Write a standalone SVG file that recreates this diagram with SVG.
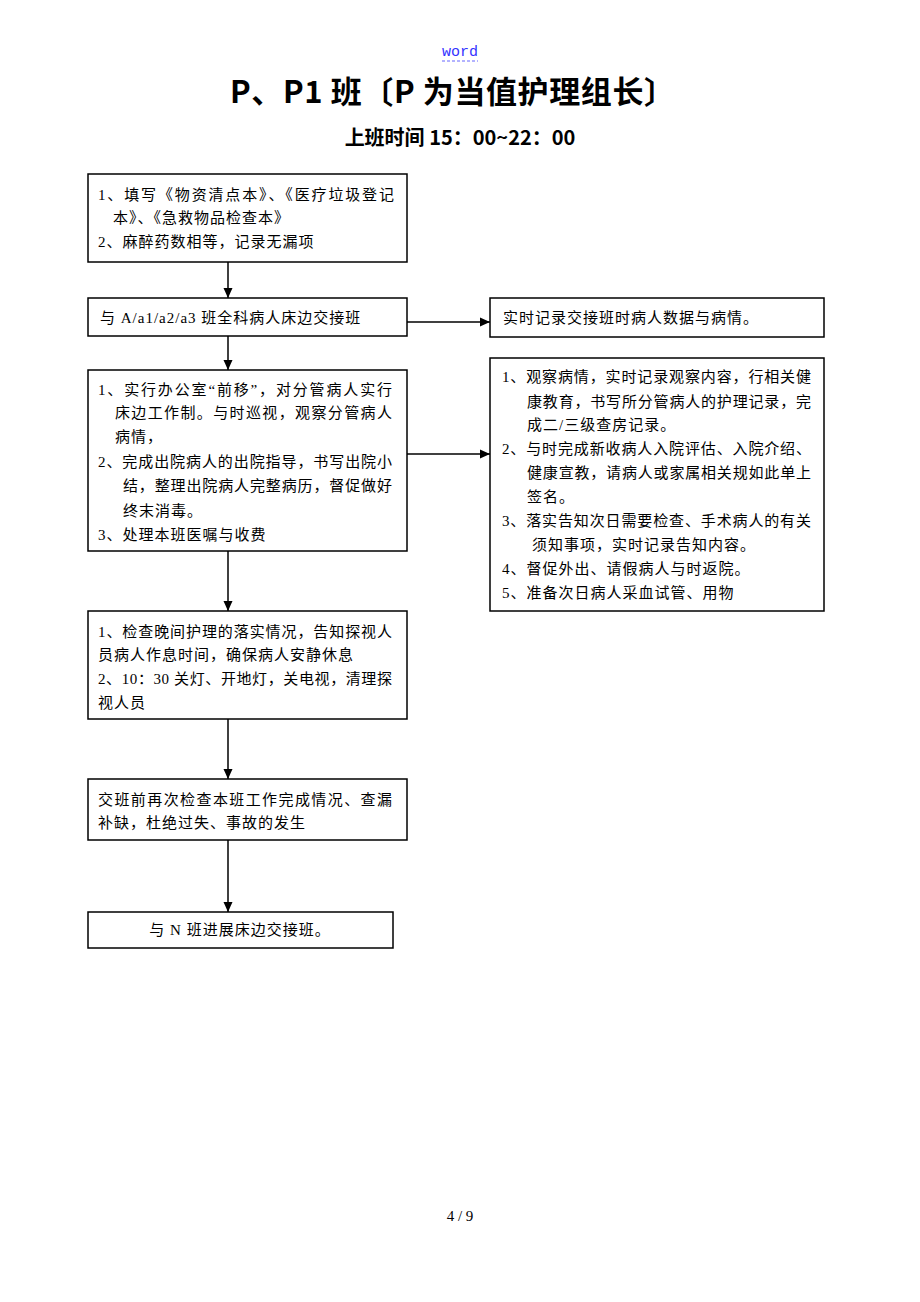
<svg xmlns="http://www.w3.org/2000/svg" width="920" height="1302" viewBox="0 0 920 1302">
<style>
.box{fill:#fff;stroke:#000;stroke-width:1.5}
.t{font-family:"Liberation Serif","Noto Sans CJK SC",serif;font-size:15px;letter-spacing:1px;fill:#000}
.c{text-anchor:middle}
.ln{stroke:#000;stroke-width:1.5;fill:none}
</style>
<defs>
<marker id="ah" markerUnits="userSpaceOnUse" markerWidth="10" markerHeight="10" refX="10" refY="5" orient="auto">
<path d="M0,0.5 L10,5 L0,9.5 z" fill="#000"/>
</marker>
</defs>
<rect width="920" height="1302" fill="#fff"/>
<g id="header">
<text x="460" y="56" text-anchor="middle" font-family="'Liberation Mono','DejaVu Sans Mono',monospace" font-size="15" fill="#3333ff">word</text>
<line x1="442" y1="61" x2="478" y2="61" stroke="#6666ff" stroke-width="1" stroke-dasharray="3,2"/>
<text x="230" y="103" textLength="445" lengthAdjust="spacing" font-family="'Noto Sans CJK SC',sans-serif" font-weight="bold" font-size="31" fill="#000">P、P1 班〔P 为当值护理组长〕</text>
<text x="460" y="145" text-anchor="middle" font-family="'Noto Sans CJK SC',sans-serif" font-weight="bold" font-size="20" fill="#000">上班时间 15：00~22：00</text>
</g>
<g id="n1">
<rect class="box" x="88" y="174" width="319" height="88"/>
<text class="t" x="98" y="200" textLength="297">1、填写《物资清点本》、《医疗垃圾登记</text>
<text class="t" x="113" y="223">本》、《急救物品检查本》</text>
<text class="t" x="98" y="247">2、麻醉药数相等，记录无漏项</text>
</g>
<g id="n2">
<rect class="box" x="88" y="298" width="319" height="38"/>
<text class="t" x="100" y="323">与 A/a1/a2/a3 班全科病人床边交接班</text>
</g>
<g id="n3">
<rect class="box" x="490" y="298" width="334" height="39"/>
<text class="t" x="503" y="323">实时记录交接班时病人数据与病情。</text>
</g>
<g id="n4">
<rect class="box" x="88" y="370" width="319" height="181"/>
<text class="t" x="98" y="395" textLength="295">1、实行办公室“前移”，对分管病人实行</text>
<text class="t" x="115" y="418" textLength="278">床边工作制。与时巡视，观察分管病人</text>
<text class="t" x="115" y="442">病情，</text>
<text class="t" x="98" y="467" textLength="295">2、完成出院病人的出院指导，书写出院小</text>
<text class="t" x="123" y="491" textLength="270">结，整理出院病人完整病历，督促做好</text>
<text class="t" x="123" y="516">终末消毒。</text>
<text class="t" x="98" y="540">3、处理本班医嘱与收费</text>
</g>
<g id="n5">
<rect class="box" x="490" y="358" width="334" height="253"/>
<text class="t" x="502" y="382" textLength="310">1、观察病情，实时记录观察内容，行相关健</text>
<text class="t" x="527" y="407" textLength="285">康教育，书写所分管病人的护理记录，完</text>
<text class="t" x="527" y="430">成二/三级查房记录。</text>
<text class="t" x="502" y="454" textLength="310">2、与时完成新收病人入院评估、入院介绍、</text>
<text class="t" x="527" y="478" textLength="285">健康宣教，请病人或家属相关规如此单上</text>
<text class="t" x="527" y="502">签名。</text>
<text class="t" x="502" y="526" textLength="310">3、落实告知次日需要检查、手术病人的有关</text>
<text class="t" x="532" y="550">须知事项，实时记录告知内容。</text>
<text class="t" x="502" y="574">4、督促外出、请假病人与时返院。</text>
<text class="t" x="502" y="598">5、准备次日病人采血试管、用物</text>
</g>
<g id="n6">
<rect class="box" x="88" y="611" width="319" height="108"/>
<text class="t" x="98" y="637" textLength="295">1、检查晚间护理的落实情况，告知探视人</text>
<text class="t" x="98" y="660">员病人作息时间，确保病人安静休息</text>
<text class="t" x="98" y="684" textLength="295">2、10：30 关灯、开地灯，关电视，清理探</text>
<text class="t" x="98" y="708">视人员</text>
</g>
<g id="n7">
<rect class="box" x="88" y="779" width="319" height="61"/>
<text class="t" x="98" y="805" textLength="295">交班前再次检查本班工作完成情况、查漏</text>
<text class="t" x="98" y="828">补缺，杜绝过失、事故的发生</text>
</g>
<g id="n8">
<rect class="box" x="88" y="912" width="305" height="36"/>
<text class="t c" x="240" y="935">与 N 班进展床边交接班。</text>
</g>
<g id="connectors">
<line class="ln" x1="228" y1="262" x2="228" y2="298" marker-end="url(#ah)"/>
<line class="ln" x1="228" y1="336" x2="228" y2="370" marker-end="url(#ah)"/>
<line class="ln" x1="228" y1="551" x2="228" y2="611" marker-end="url(#ah)"/>
<line class="ln" x1="228" y1="719" x2="228" y2="779" marker-end="url(#ah)"/>
<line class="ln" x1="228" y1="840" x2="228" y2="912" marker-end="url(#ah)"/>
<line class="ln" x1="407" y1="322" x2="490" y2="322" marker-end="url(#ah)"/>
<line class="ln" x1="407" y1="454" x2="490" y2="454" marker-end="url(#ah)"/>
</g>
<g id="footer">
<text x="460" y="1221" text-anchor="middle" font-family="'Liberation Serif',serif" font-size="15" fill="#000">4 / 9</text>
</g>
</svg>
